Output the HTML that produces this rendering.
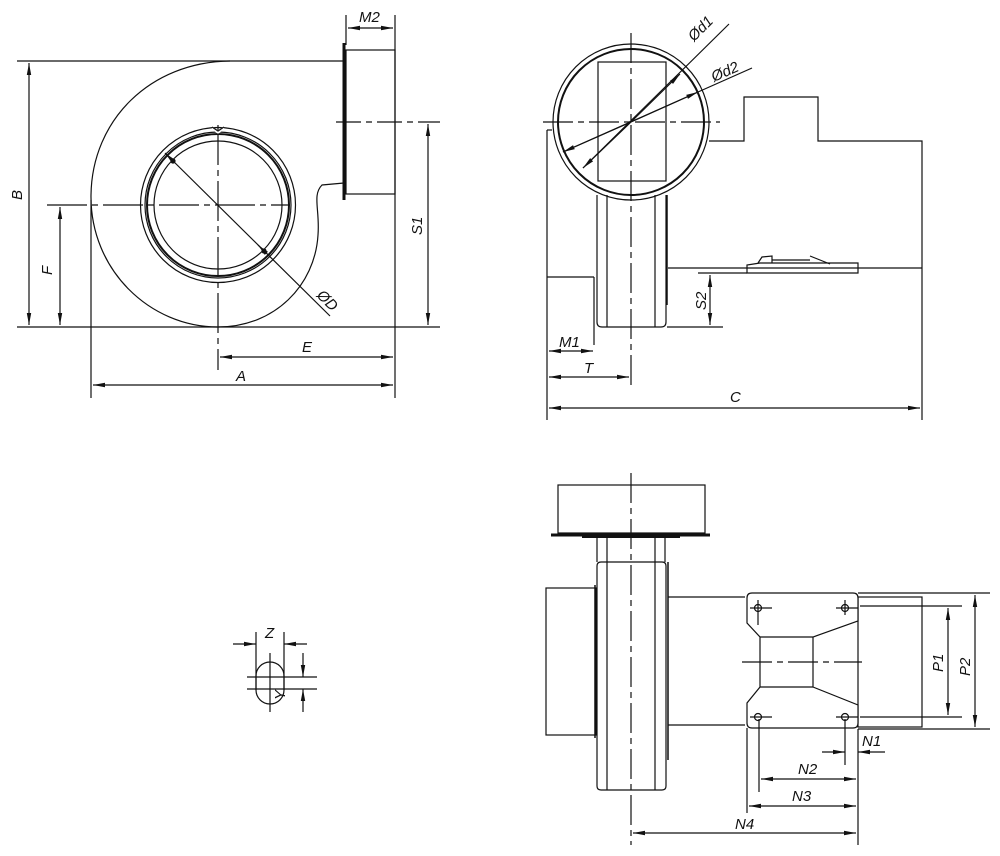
<!DOCTYPE html>
<html><head><meta charset="utf-8"><style>
html,body{margin:0;padding:0;background:#fff}
svg{display:block}
text{font-family:"Liberation Sans",sans-serif;font-style:italic;font-size:15px;fill:#111}
</style></head><body>
<svg width="1000" height="856" viewBox="0 0 1000 856" xmlns="http://www.w3.org/2000/svg">
<defs>
<marker id="a" viewBox="0 0 12 6" refX="12" refY="3" markerWidth="12" markerHeight="6" orient="auto-start-reverse" markerUnits="userSpaceOnUse"><path d="M0,0.8 L12,3 L0,5.2 z" fill="#111"/></marker>
</defs>
<g stroke="#111" stroke-width="1.2" fill="none">
<!-- ===== View 1 ===== -->
<line x1="17" y1="61" x2="343" y2="61"/>
<line x1="17" y1="327" x2="440" y2="327"/>
<line x1="29" y1="63" x2="29" y2="325" marker-start="url(#a)" marker-end="url(#a)"/>
<line x1="60" y1="207" x2="60" y2="325" marker-start="url(#a)" marker-end="url(#a)"/>
<line x1="47" y1="205" x2="290" y2="205" stroke-dasharray="40,5,6,5"/>
<line x1="218" y1="125" x2="218" y2="370" stroke-dasharray="40,5,6,5"/>
<path d="M230 61 C150 62 92 120 91 195 C90 270 150 327 218 327 C275 327 315 285 318 235 C320 210 312 195 322 185 L344 183"/>
<circle cx="218" cy="205" r="77.5"/>
<circle cx="218" cy="205" r="73"/>
<circle cx="218" cy="205" r="71" stroke-width="2"/>
<circle cx="218" cy="205" r="64"/>
<path d="M212 128 L218 132 L224 128" stroke="#fff" stroke-width="3"/>
<path d="M212 127 L218 131 L224 127"/>
<line x1="165" y1="153" x2="330" y2="316" marker-start="url(#a)"/>
<circle cx="173" cy="161" r="2" fill="#111"/>
<circle cx="264" cy="251" r="2" fill="#111"/>
<line x1="264" y1="251" x2="258" y2="245" marker-end="url(#a)"/>
<line x1="344" y1="43" x2="344" y2="200" stroke-width="3"/>
<rect x="346" y="50" width="49" height="144"/>
<line x1="346" y1="15" x2="346" y2="45"/>
<line x1="395" y1="15" x2="395" y2="398"/>
<line x1="348" y1="28" x2="393" y2="28" marker-start="url(#a)" marker-end="url(#a)"/>
<line x1="336" y1="122" x2="440" y2="122" stroke-dasharray="25,5,6,5"/>
<line x1="428" y1="124" x2="428" y2="325" marker-start="url(#a)" marker-end="url(#a)"/>
<line x1="91" y1="200" x2="91" y2="398"/>
<line x1="220" y1="357" x2="393" y2="357" marker-start="url(#a)" marker-end="url(#a)"/>
<line x1="93" y1="385" x2="393" y2="385" marker-start="url(#a)" marker-end="url(#a)"/>
<!-- ===== View 2 ===== -->
<circle cx="631" cy="122" r="78"/>
<circle cx="631" cy="122" r="73" stroke-width="2"/>
<rect x="598" y="62" width="68" height="119"/>
<line x1="631" y1="33" x2="631" y2="390" stroke-dasharray="30,5,6,5"/>
<line x1="543" y1="122" x2="720" y2="122" stroke-dasharray="30,5,6,5"/>
<path d="M597 195 L597 322 Q597 327 602 327 L661 327 Q666 327 666 322 L666 195"/>
<line x1="607" y1="195" x2="607" y2="327"/>
<line x1="655" y1="195" x2="655" y2="327"/>
<line x1="667" y1="195" x2="667" y2="305" stroke-width="1.5"/>
<line x1="547" y1="130" x2="547" y2="420"/>
<line x1="547" y1="130" x2="552" y2="130"/>
<line x1="547" y1="277" x2="594" y2="277"/>
<line x1="594" y1="277" x2="594" y2="345"/>
<path d="M709 141 L744 141 L744 97 L818 97 L818 141 L922 141 L922 420"/>
<line x1="668" y1="268" x2="922" y2="268"/>
<path d="M747 273 L747 265 L760 263 L858 263 L858 273 Z"/>
<path d="M758 263 L762 257 L772 256 L772 263 M772 260 L810 260 M810 256 L830 264"/>
<line x1="698" y1="273" x2="747" y2="273"/>
<line x1="667" y1="327" x2="723" y2="327"/>
<line x1="710" y1="275" x2="710" y2="325" marker-start="url(#a)" marker-end="url(#a)"/>
<line x1="549" y1="351" x2="593" y2="351" marker-start="url(#a)" marker-end="url(#a)"/>
<line x1="549" y1="377" x2="629" y2="377" marker-start="url(#a)" marker-end="url(#a)"/>
<line x1="549" y1="408" x2="920" y2="408" marker-start="url(#a)" marker-end="url(#a)"/>
<line x1="583" y1="168" x2="729" y2="24"/>
<line x1="563" y1="152" x2="752" y2="68"/>
<line x1="631" y1="122" x2="583" y2="168" marker-end="url(#a)"/>
<line x1="631" y1="122" x2="680" y2="74" marker-end="url(#a)"/>
<line x1="631" y1="122" x2="563" y2="152" marker-end="url(#a)"/>
<line x1="631" y1="122" x2="698" y2="92" marker-end="url(#a)"/>
<!-- ===== View 3 ===== -->
<rect x="558" y="485" width="147" height="48"/>
<line x1="551" y1="535" x2="710" y2="535" stroke-width="3"/>
<line x1="582" y1="537" x2="680" y2="537" stroke-width="2"/>
<line x1="597" y1="537" x2="597" y2="562"/>
<line x1="607" y1="537" x2="607" y2="562"/>
<line x1="655" y1="537" x2="655" y2="562"/>
<line x1="665" y1="537" x2="665" y2="562"/>
<path d="M601 562 L662 562 Q666 562 666 566 L666 786 Q666 790 662 790 L601 790 Q597 790 597 786 L597 566 Q597 562 601 562 Z"/>
<line x1="607" y1="562" x2="607" y2="790"/>
<line x1="655" y1="562" x2="655" y2="790"/>
<line x1="668" y1="562" x2="668" y2="760" stroke-width="1.5"/>
<rect x="546" y="588" width="50" height="147"/>
<line x1="595" y1="585" x2="595" y2="738" stroke-width="1.5"/>
<line x1="631" y1="473" x2="631" y2="845" stroke-dasharray="30,5,6,5"/>
<line x1="668" y1="597" x2="745" y2="597"/>
<line x1="668" y1="725" x2="745" y2="725"/>
<rect x="858" y="597" width="64" height="130"/>
<path d="M752 593 L853 593 Q858 593 858 598 L858 621 L813 637 L813 687 L858 705 L858 723 Q858 728 853 728 L752 728 Q747 728 747 723 L747 703 L760 687 L760 637 L747 623 L747 598 Q747 593 752 593 Z" fill="#fff"/>
<line x1="760" y1="637" x2="813" y2="637"/>
<line x1="760" y1="687" x2="813" y2="687"/>
<line x1="742" y1="662" x2="862" y2="662" stroke-dasharray="30,5,6,5"/>
<circle cx="758" cy="608" r="3.5"/><circle cx="845" cy="608" r="3.5"/>
<circle cx="758" cy="717" r="3.5"/><circle cx="845" cy="717" r="3.5"/>
<line x1="750" y1="608" x2="772" y2="608"/><line x1="836" y1="608" x2="858" y2="608"/>
<line x1="750" y1="717" x2="772" y2="717"/><line x1="836" y1="717" x2="858" y2="717"/>
<line x1="758" y1="600" x2="758" y2="625"/><line x1="845" y1="600" x2="845" y2="615"/>
<line x1="860" y1="606" x2="962" y2="606"/>
<line x1="860" y1="717" x2="962" y2="717"/>
<line x1="858" y1="593" x2="990" y2="593"/>
<line x1="858" y1="729" x2="990" y2="729"/>
<line x1="948" y1="608" x2="948" y2="715" marker-start="url(#a)" marker-end="url(#a)"/>
<line x1="975" y1="595" x2="975" y2="727" marker-start="url(#a)" marker-end="url(#a)"/>
<line x1="858" y1="729" x2="858" y2="845"/>
<line x1="845" y1="719" x2="845" y2="765"/>
<line x1="759" y1="719" x2="759" y2="792"/>
<line x1="747" y1="728" x2="747" y2="813"/>
<line x1="822" y1="752" x2="845" y2="752" marker-end="url(#a)"/>
<line x1="885" y1="752" x2="858" y2="752" marker-end="url(#a)"/>
<line x1="761" y1="779" x2="856" y2="779" marker-start="url(#a)" marker-end="url(#a)"/>
<line x1="749" y1="806" x2="856" y2="806" marker-start="url(#a)" marker-end="url(#a)"/>
<line x1="633" y1="833" x2="856" y2="833" marker-start="url(#a)" marker-end="url(#a)"/>
<!-- ===== Slot ===== -->
<rect x="256" y="662" width="28" height="42" rx="14"/>
<line x1="256" y1="632" x2="256" y2="690"/>
<line x1="284" y1="632" x2="284" y2="690"/>
<line x1="247" y1="677" x2="317" y2="677"/>
<line x1="247" y1="689" x2="317" y2="689"/>
<line x1="270" y1="653" x2="270" y2="712"/>
<line x1="233" y1="644" x2="256" y2="644" marker-end="url(#a)"/>
<line x1="307" y1="644" x2="284" y2="644" marker-end="url(#a)"/>
<line x1="303" y1="653" x2="303" y2="677" marker-end="url(#a)"/>
<line x1="303" y1="712" x2="303" y2="689" marker-end="url(#a)"/>
</g>
<g>
<text x="359" y="22">M2</text>
<text transform="translate(22,200) rotate(-90)">B</text>
<text transform="translate(52,275) rotate(-90)">F</text>
<text transform="translate(422,235) rotate(-90)">S1</text>
<text transform="translate(316,296) rotate(45)">ØD</text>
<text x="302" y="352">E</text>
<text x="236" y="381">A</text>
<text transform="translate(694,42) rotate(-45)">Ød1</text>
<text transform="translate(714,82) rotate(-24)">Ød2</text>
<text transform="translate(706,310) rotate(-90)">S2</text>
<text x="559" y="347">M1</text>
<text x="584" y="373">T</text>
<text x="730" y="402">C</text>
<text transform="translate(943,672) rotate(-90)">P1</text>
<text transform="translate(970,676) rotate(-90)">P2</text>
<text x="862" y="746">N1</text>
<text x="798" y="774">N2</text>
<text x="792" y="801">N3</text>
<text x="735" y="829">N4</text>
<text x="265" y="638">Z</text>
<text transform="translate(285,700) rotate(-90)">Y</text>
</g>
</svg>
</body></html>
